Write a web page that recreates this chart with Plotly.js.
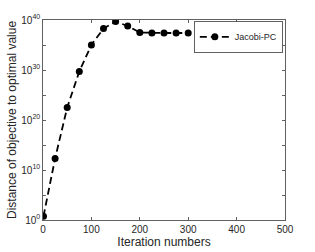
<!DOCTYPE html>
<html>
<head>
<meta charset="utf-8">
<script src="https://cdn.plot.ly/plotly-3.0.1.min.js"></script>
<style>html,body{margin:0;padding:0;background:#fff;}#chart{width:315px;height:252px;}</style>
</head>
<body>
<div id="chart"></div>
<script>
const iterations = [1, 25, 50, 75, 100, 125, 150, 175, 200, 225, 250, 275, 300];
const exponents = [0.75, 12.3, 22.5, 29.7, 35.0, 38.3, 39.7, 38.8, 37.5, 37.4, 37.4, 37.4, 37.4];
const values = exponents.map(e => Math.pow(10, e));
const seriesName = "Jacobi-PC";
const xTicks = [0, 100, 200, 300, 400, 500];
const yTickExps = [0, 5, 10, 15, 20, 25, 30, 35, 40];
const yTickLabels = ["10<sup>0</sup>", "", "10<sup>10</sup>", "", "10<sup>20</sup>", "", "10<sup>30</sup>", "", "10<sup>40</sup>"];

const font = "Liberation Sans, Arial, sans-serif";
const axisColor = "#3a3a3a";

const trace = {
  x: iterations,
  y: values,
  name: seriesName,
  type: "scatter",
  mode: "lines+markers",
  line: {color: "#000", width: 1.8, dash: "7px,4px"},
  marker: {color: "#000", size: 7, symbol: "circle"},
  showlegend: true
};

const layout = {
  width: 315, height: 252,
  margin: {l: 43, r: 30, t: 20, b: 32},
  paper_bgcolor: "#fff", plot_bgcolor: "#fff",
  font: {family: font, size: 10, color: "#262626"},
  xaxis: {
    range: [0, 500],
    tickvals: xTicks,
    ticktext: xTicks.map(String),
    ticks: "inside", ticklen: 3, tickwidth: 0.8, tickcolor: axisColor,
    showline: true, linecolor: axisColor, linewidth: 0.8, mirror: "ticks",
    showgrid: false, zeroline: false,
    tickfont: {size: 10, color: "#262626"},
    title: {text: "Iteration numbers", font: {size: 12, color: "#262626"}, standoff: 1}
  },
  yaxis: {
    type: "log",
    range: [0, 40],
    tickvals: yTickExps.map(e => Math.pow(10, e)),
    ticktext: yTickLabels,
    ticks: "inside", ticklen: 3, tickwidth: 0.8, tickcolor: axisColor,
    showline: true, linecolor: axisColor, linewidth: 0.8, mirror: "ticks",
    showgrid: false, zeroline: false,
    tickfont: {size: 10, color: "#262626"},
    title: {text: "Distance of objective to optimal value", font: {size: 12, color: "#262626"}, standoff: 1}
  },
  legend: {
    x: 0.808, y: 0.915, xanchor: "center", yanchor: "middle",
    bgcolor: "#fff", bordercolor: axisColor, borderwidth: 0.8,
    font: {size: 9, color: "#262626"},
    itemwidth: 30, tracegroupgap: 0
  },
  showlegend: true
};

Plotly.newPlot("chart", [trace], layout, {displayModeBar: false, staticPlot: true});
</script>
</body>
</html>
